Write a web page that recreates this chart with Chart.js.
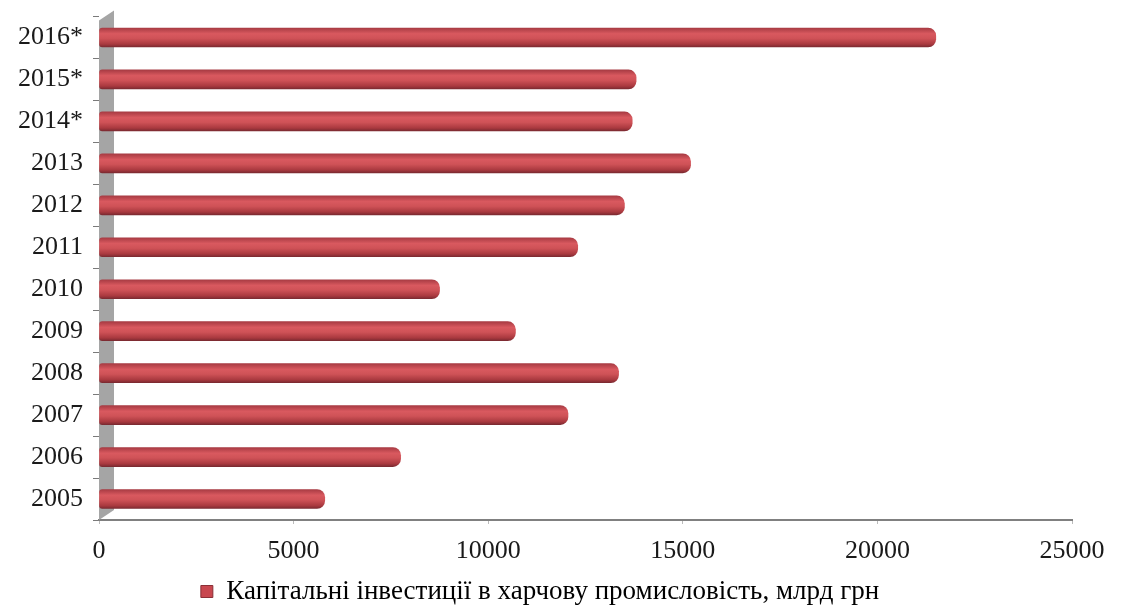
<!DOCTYPE html>
<html>
<head>
<meta charset="utf-8">
<script src="https://cdn.jsdelivr.net/npm/chart.js@4/dist/chart.umd.min.js"></script>
<style>
html,body{margin:0;padding:0;background:#fff;}
#wrap{width:1122px;height:608px;position:relative;}
</style>
</head>
<body>
<div id="wrap"><canvas id="c" width="1122" height="608"></canvas></div>
<script>
const categories = ['2005','2006','2007','2008','2009','2010','2011','2012','2013','2014*','2015*','2016*'];
const investments = [5800, 7750, 12050, 13350, 10700, 8750, 12300, 13500, 15200, 13700, 13800, 21500];
const seriesLabel = 'Капітальні інвестиції в харчову промисловість, млрд грн';
const xTicks = [0, 5000, 10000, 15000, 20000, 25000];

const BAR_H = 19;

function barGradient(context) {
  const chart = context.chart;
  const yScale = chart.scales.y;
  if (!yScale || context.dataIndex === undefined) return '#c0474e';
  const y = yScale.getPixelForValue(context.dataIndex);
  const g = chart.ctx.createLinearGradient(0, y - BAR_H / 2, 0, y + BAR_H / 2);
  g.addColorStop(0, '#a83b43');
  g.addColorStop(0.3, '#d9595f');
  g.addColorStop(0.55, '#cf5257');
  g.addColorStop(0.85, '#a9393f');
  g.addColorStop(1, '#7c2a31');
  return g;
}

const wallPlugin = {
  id: 'wall',
  beforeDatasetsDraw(chart) {
    const {ctx, chartArea} = chart;
    const x0 = chart.scales.x.getPixelForValue(0);
    const w = 15;
    ctx.save();
    ctx.fillStyle = '#a5a5a5';
    ctx.beginPath();
    ctx.moveTo(x0, chartArea.top + 4);
    ctx.lineTo(x0 + w, chartArea.top - 6);
    ctx.lineTo(x0 + w, chartArea.bottom - 10);
    ctx.lineTo(x0, chartArea.bottom);
    ctx.closePath();
    ctx.fill();
    ctx.restore();
  }
};

new Chart(document.getElementById('c'), {
  type: 'bar',
  data: {
    labels: categories,
    datasets: [{
      label: seriesLabel,
      data: investments,
      backgroundColor: barGradient,
      borderWidth: 0,
      borderRadius: {topRight: 8, bottomRight: 8, topLeft: 3, bottomLeft: 3},
      borderSkipped: false,
      barThickness: BAR_H
    }]
  },
  plugins: [wallPlugin],
  options: {
    indexAxis: 'y',
    responsive: false,
    animation: false,
    layout: {padding: {top: 2, right: 50, left: 8, bottom: -7}},
    scales: {
      x: {
        min: 0, max: 25000,
        afterBuildTicks(axis) { axis.ticks = xTicks.map(v => ({value: v})); },
        grid: {drawOnChartArea: false, tickLength: 4, color: '#bbbbbb'},
        border: {display: true, color: '#808080', width: 2},
        ticks: {color: '#1a1a1a', font: {family: 'Liberation Serif', size: 26, lineHeight: 1.0}, padding: 14, maxRotation: 0,
          callback: (v) => String(v)}
      },
      y: {
        reverse: true,
        grid: {drawOnChartArea: false, tickLength: 6, color: '#7a7a7a', offset: true},
        border: {display: false},
        ticks: {color: '#1a1a1a', font: {family: 'Liberation Serif', size: 26, lineHeight: 0.5}, padding: 10}
      }
    },
    plugins: {
      legend: {
        position: 'bottom',
        labels: {
          color: '#1a1a1a',
          font: {family: 'Liberation Serif', size: 27, lineHeight: 1.0},
          boxWidth: 12, boxHeight: 12, padding: 0,
          generateLabels() {
            return [{text: seriesLabel, fillStyle: '#c8474f', strokeStyle: '#8a2f36', lineWidth: 1, hidden: false, datasetIndex: 0}];
          }
        }
      },
      tooltip: {enabled: false}
    }
  }
});
</script>
</body>
</html>
